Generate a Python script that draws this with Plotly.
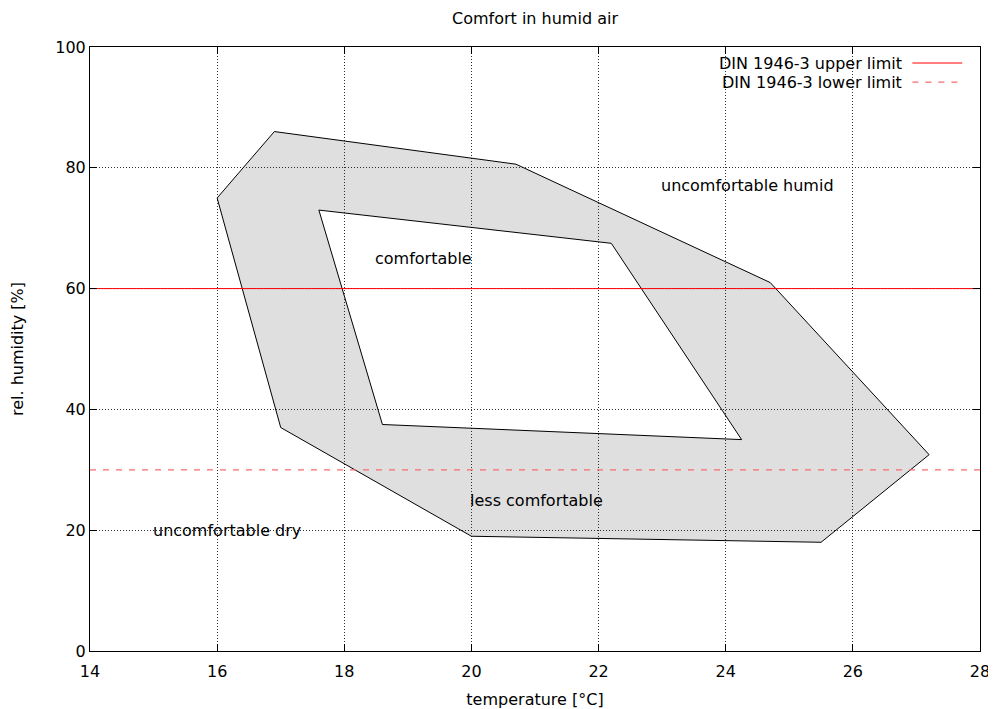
import plotly.graph_objects as go

# Outer "less comfortable" region (clockwise)
outer_t = [16.9, 20.7, 24.7, 27.2, 25.5, 20.0, 17.0, 16.0]
outer_rh = [86.0, 80.6, 61.0, 32.5, 18.0, 19.0, 37.0, 75.0]
# Inner "comfortable" region
inner_t = [17.6, 22.2, 24.25, 18.6]
inner_rh = [73.0, 67.5, 35.0, 37.5]

limit_t = [14, 28]
upper_limit = [60, 60]
lower_limit = [30, 30]

labels = ["uncomfortable humid", "comfortable", "less comfortable", "uncomfortable dry"]
label_t = [23.0, 18.5, 20.0, 15.0]
label_rh = [77, 65, 25, 20]

FONT = "DejaVu Sans"
UPPER_COLOR = "rgb(255,0,0)"
LOWER_COLOR = "rgb(245,110,110)"

# polygon with hole: outer clockwise, inner reversed (counter-clockwise)
inner_rev_t = inner_t[::-1]
inner_rev_rh = inner_rh[::-1]
poly_x = outer_t + [outer_t[0], None] + inner_rev_t + [inner_rev_t[0]]
poly_y = outer_rh + [outer_rh[0], None] + inner_rev_rh + [inner_rev_rh[0]]

fig = go.Figure()
fig.add_trace(go.Scatter(x=poly_x, y=poly_y, mode="lines", fill="toself",
                         fillcolor="rgba(0,0,0,0.125)",
                         line=dict(color="black", width=1), showlegend=False,
                         connectgaps=False))
fig.add_trace(go.Scatter(x=limit_t, y=upper_limit, mode="lines",
                         line=dict(color=UPPER_COLOR, width=1), showlegend=False))
fig.add_trace(go.Scatter(x=limit_t, y=lower_limit, mode="lines",
                         line=dict(color=LOWER_COLOR, width=1.2, dash="6px,7px"),
                         showlegend=False))

for txt, x, y in zip(labels, label_t, label_rh):
    fig.add_annotation(x=x, y=y, text=txt, showarrow=False, xanchor="left",
                       yanchor="middle", xshift=-3,
                       font=dict(family=FONT, size=16, color="black"))

# custom gnuplot-style legend (text left of sample line)
leg = [("DIN 1946-3 upper limit", 0.9735, UPPER_COLOR, "solid"),
       ("DIN 1946-3 lower limit", 0.942, LOWER_COLOR, "6px,7px")]
for txt, yy, col, dash in leg:
    fig.add_annotation(xref="paper", yref="paper", x=0.912, y=yy, text=txt,
                       showarrow=False, xanchor="right", yanchor="middle", xshift=2,
                       font=dict(family=FONT, size=16, color="black"))
    fig.add_shape(type="line", xref="paper", yref="paper", x0=0.924, x1=0.980,
                  y0=yy, y1=yy, line=dict(color=col, width=1.2, dash=dash))

fig.add_annotation(xref="paper", yref="paper", x=0.5, y=1.0 + 29/604,
                   text="Comfort in humid air", showarrow=False,
                   xanchor="center", yanchor="middle",
                   font=dict(family=FONT, size=16, color="black"))

axis_common = dict(showline=True, linecolor="black", linewidth=1, mirror="allticks",
                   ticks="inside", ticklen=7, tickcolor="black", tickwidth=1,
                   showgrid=True, gridcolor="rgba(0,0,0,0.8)", griddash="1px,2px",
                   gridwidth=1, zeroline=False, automargin=False,
                   tickfont=dict(family=FONT, size=16, color="black"))

fig.update_xaxes(range=[14, 28], tickmode="linear", tick0=14, dtick=2,
                 ticklabelstandoff=6,
                 title=dict(text="temperature [°C]", standoff=16,
                            font=dict(family=FONT, size=16, color="black")),
                 **axis_common)
fig.update_yaxes(range=[0, 100], tickmode="linear", tick0=0, dtick=20,
                 title=dict(text="rel. humidity [%]", standoff=28,
                            font=dict(family=FONT, size=16, color="black")),
                 **axis_common)

# page body has an 8px margin; shrink the figure so the plot lands where the reference has it
fig.update_layout(width=988, height=701, margin=dict(l=82, r=16, t=39, b=58),
                  paper_bgcolor="white", plot_bgcolor="white",
                  font=dict(family=FONT, size=16, color="black"),
                  showlegend=False)

fig.write_html("out.html")
